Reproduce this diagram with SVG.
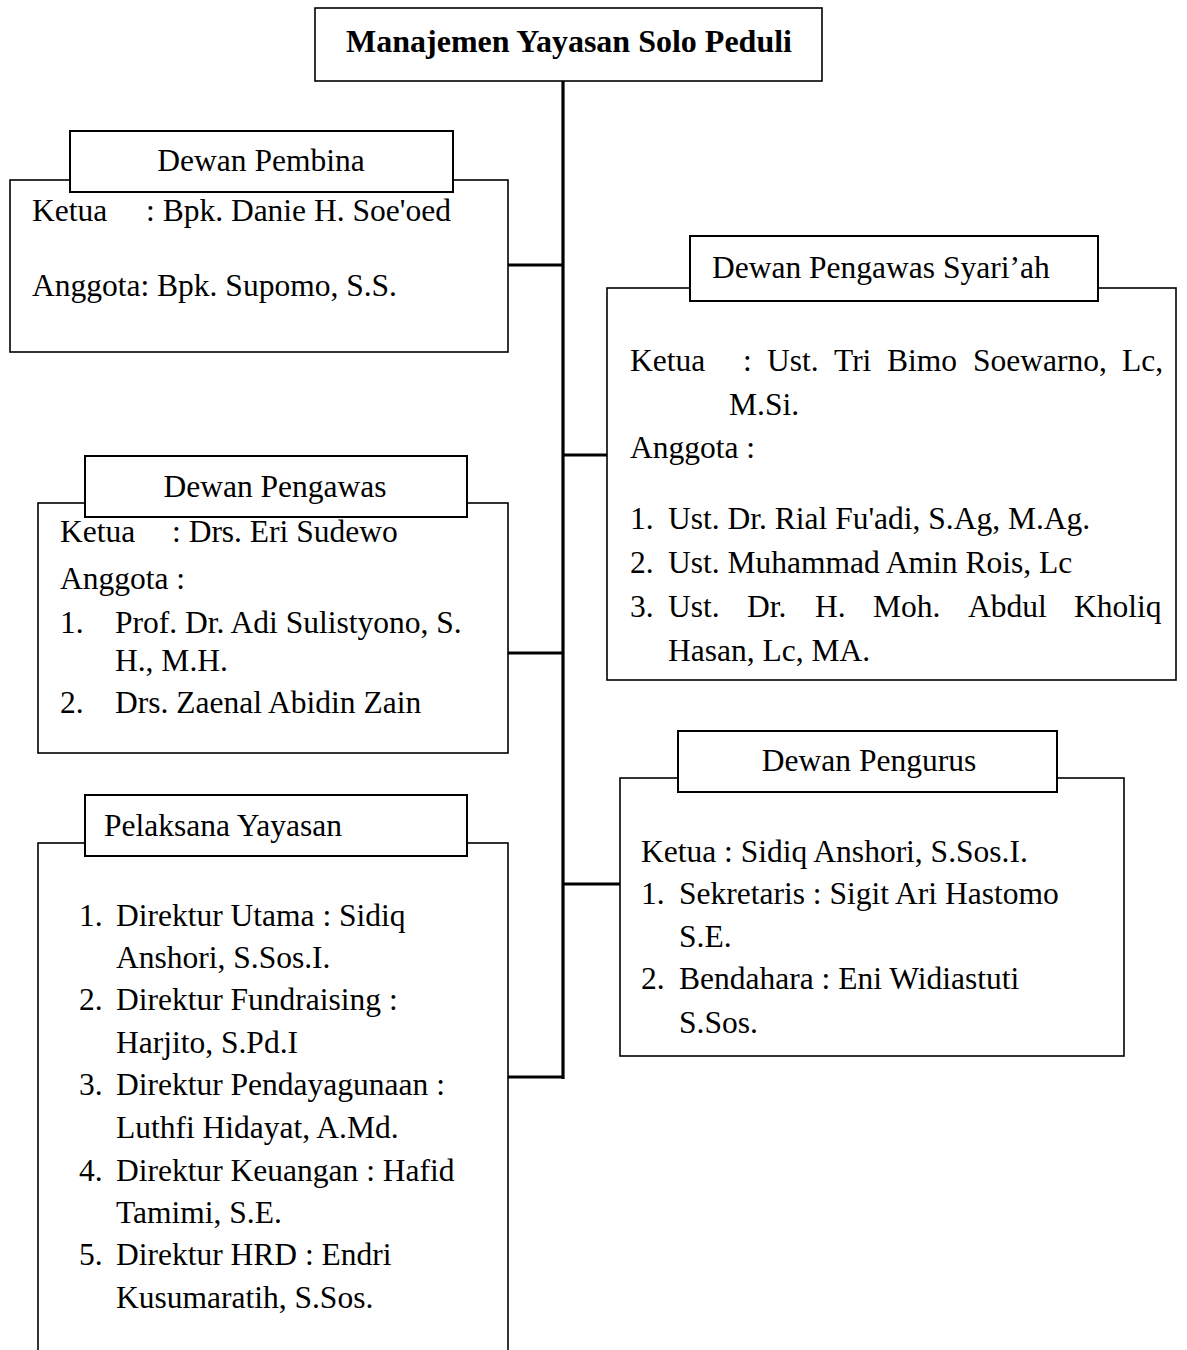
<svg xmlns="http://www.w3.org/2000/svg" width="1187" height="1350" viewBox="0 0 1187 1350">
<style>
text{font-family:"Liberation Serif","Times New Roman",serif;font-size:31.5px;fill:#000}
.title{font-weight:bold;font-size:32px}
.box{fill:#fff;stroke:#000;stroke-width:1.6}
.hdr{fill:#fff;stroke:#000;stroke-width:2}
.conn{stroke:#000;stroke-width:3.2;fill:none}
</style>
<rect width="1187" height="1350" fill="#fff"/>
<g id="connectors">
<line class="conn" x1="563" y1="81" x2="563" y2="1079"/>
<line class="conn" x1="508" y1="265" x2="563" y2="265"/>
<line class="conn" x1="563" y1="455" x2="607" y2="455"/>
<line class="conn" x1="508" y1="653" x2="563" y2="653"/>
<line class="conn" x1="563" y1="884" x2="620" y2="884"/>
<line class="conn" x1="508" y1="1077" x2="563" y2="1077"/>
</g>
<g id="root">
<rect class="box" x="315" y="8" width="507" height="73"/>
<text class="title" x="569" y="52" text-anchor="middle">Manajemen Yayasan Solo Peduli</text>
</g>
<g id="dewan-pembina">
<rect class="box" x="10" y="180" width="498" height="172"/>
<rect class="hdr" x="70" y="131" width="383" height="61"/>
<text x="261" y="171" text-anchor="middle">Dewan Pembina</text>
<text x="32" y="221">Ketua</text>
<text x="146" y="221">: Bpk. Danie H. Soe'oed</text>
<text x="32" y="296">Anggota: Bpk. Supomo, S.S.</text>
</g>
<g id="dewan-pengawas-syariah">
<rect class="box" x="607" y="288" width="569" height="392"/>
<rect class="hdr" x="690" y="236" width="408" height="65"/>
<text x="712" y="278">Dewan Pengawas Syari’ah</text>
<text x="630" y="371">Ketua</text>
<text y="371"><tspan x="743">:</tspan><tspan x="767">Ust.</tspan><tspan x="834">Tri</tspan><tspan x="887">Bimo</tspan><tspan x="973">Soewarno,</tspan><tspan x="1122">Lc,</tspan></text>
<text x="729" y="415">M.Si.</text>
<text x="630" y="458">Anggota :</text>
<text x="630" y="529">1.</text>
<text x="668" y="529">Ust. Dr. Rial Fu'adi, S.Ag, M.Ag.</text>
<text x="630" y="573">2.</text>
<text x="668" y="573">Ust. Muhammad Amin Rois, Lc</text>
<text x="630" y="617">3.</text>
<text y="617"><tspan x="668">Ust.</tspan><tspan x="747">Dr.</tspan><tspan x="815">H.</tspan><tspan x="873">Moh.</tspan><tspan x="968">Abdul</tspan><tspan x="1074">Kholiq</tspan></text>
<text x="668" y="661">Hasan, Lc, MA.</text>
</g>
<g id="dewan-pengawas">
<rect class="box" x="38" y="503" width="470" height="250"/>
<rect class="hdr" x="85" y="456" width="382" height="61"/>
<text x="275" y="497" text-anchor="middle">Dewan Pengawas</text>
<text x="60" y="542">Ketua</text>
<text x="172" y="542">: Drs. Eri Sudewo</text>
<text x="60" y="589">Anggota :</text>
<text x="60" y="633">1.</text>
<text x="115" y="633">Prof. Dr. Adi Sulistyono, S.</text>
<text x="115" y="671">H., M.H.</text>
<text x="60" y="713">2.</text>
<text x="115" y="713">Drs. Zaenal Abidin Zain</text>
</g>
<g id="dewan-pengurus">
<rect class="box" x="620" y="778" width="504" height="278"/>
<rect class="hdr" x="678" y="731" width="379" height="61"/>
<text x="869" y="771" text-anchor="middle">Dewan Pengurus</text>
<text x="641" y="862">Ketua : Sidiq Anshori, S.Sos.I.</text>
<text x="641" y="904">1.</text>
<text x="679" y="904">Sekretaris : Sigit Ari Hastomo</text>
<text x="679" y="947">S.E.</text>
<text x="641" y="989">2.</text>
<text x="679" y="989">Bendahara : Eni Widiastuti</text>
<text x="679" y="1033">S.Sos.</text>
</g>
<g id="pelaksana-yayasan">
<rect class="box" x="38" y="843" width="470" height="520"/>
<rect class="hdr" x="85" y="795" width="382" height="61"/>
<text x="104" y="836">Pelaksana Yayasan</text>
<text x="79" y="926">1.</text>
<text x="116" y="926">Direktur Utama : Sidiq</text>
<text x="116" y="968">Anshori, S.Sos.I.</text>
<text x="79" y="1010">2.</text>
<text x="116" y="1010">Direktur Fundraising :</text>
<text x="116" y="1053">Harjito, S.Pd.I</text>
<text x="79" y="1095">3.</text>
<text x="116" y="1095">Direktur Pendayagunaan :</text>
<text x="116" y="1138">Luthfi Hidayat, A.Md.</text>
<text x="79" y="1181">4.</text>
<text x="116" y="1181">Direktur Keuangan : Hafid</text>
<text x="116" y="1223">Tamimi, S.E.</text>
<text x="79" y="1265">5.</text>
<text x="116" y="1265">Direktur HRD : Endri</text>
<text x="116" y="1308">Kusumaratih, S.Sos.</text>
</g>
</svg>
